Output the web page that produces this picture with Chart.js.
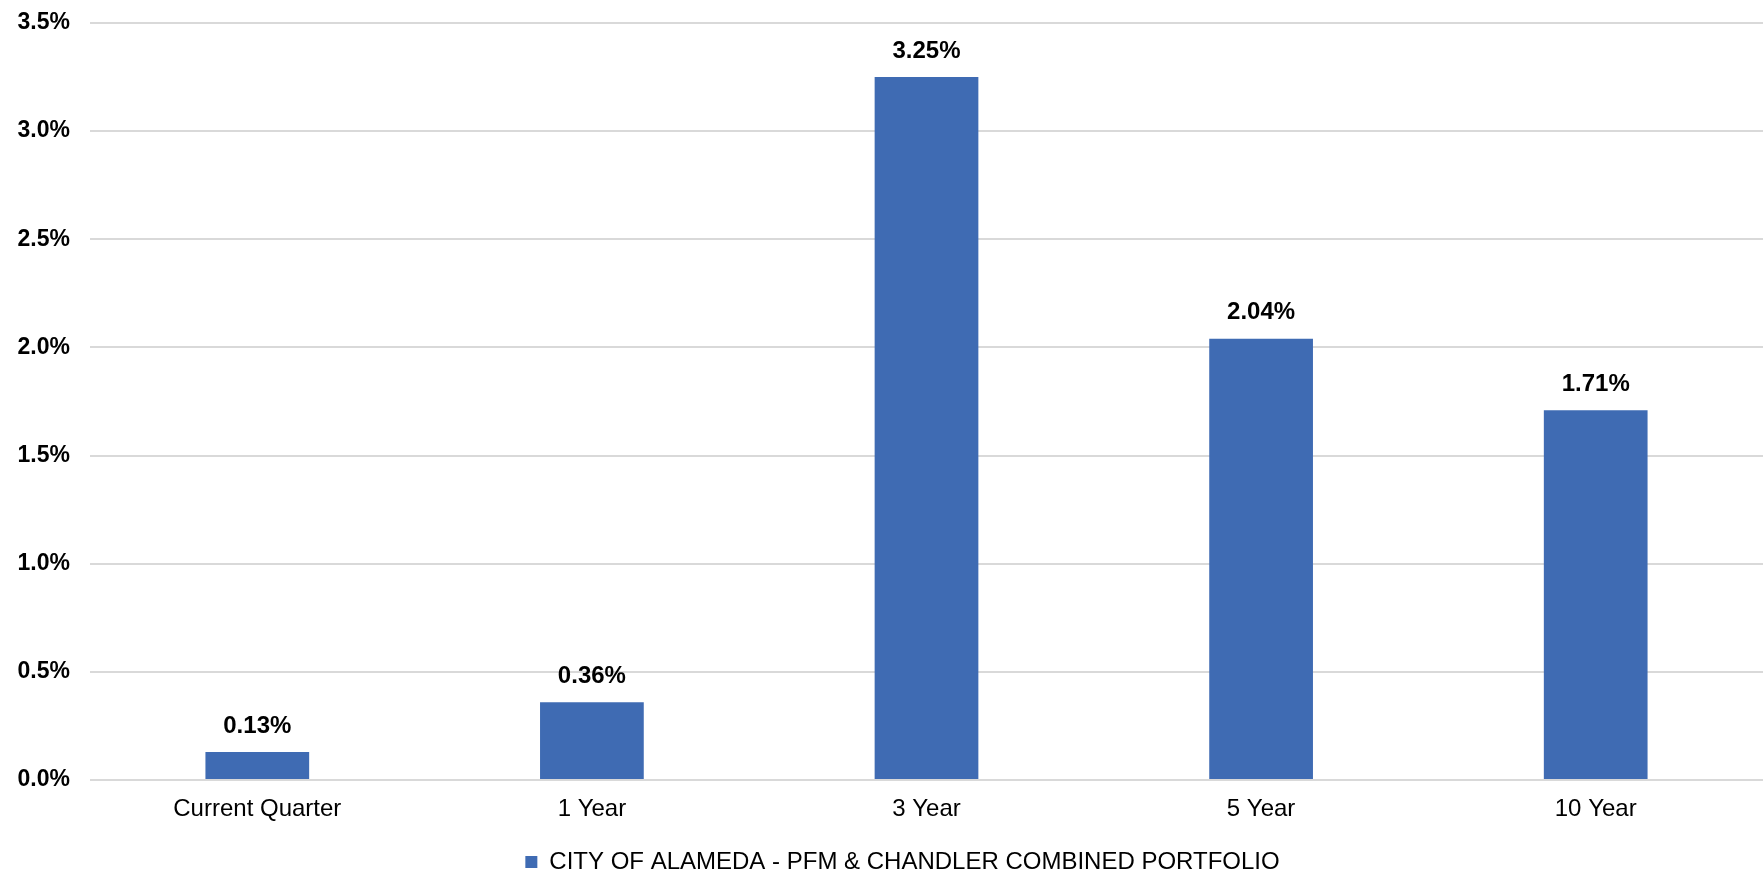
<!DOCTYPE html>
<html>
<head>
  <meta charset="UTF-8">
  <title>Annualized Returns</title>
  <script src="https://cdn.jsdelivr.net/npm/chart.js"></script>
  <style>
    html, body { margin: 0; padding: 0; background: #fff; }
    #wrap { width: 1763px; height: 876px; }
  </style>
</head>
<body>
  <div id="wrap"><canvas id="chart"></canvas></div>
  <script>
    const categories = ['Current Quarter', '1 Year', '3 Year', '5 Year', '10 Year'];
    const returns = [0.13, 0.36, 3.25, 2.04, 1.71];
    const seriesName = 'CITY OF ALAMEDA - PFM & CHANDLER COMBINED PORTFOLIO';

    const FONT = "'Liberation Sans', Arial, sans-serif";

    // value labels above each bar
    const barLabels = {
      id: 'barLabels',
      afterDatasetsDraw(chart) {
        const ctx = chart.ctx;
        const meta = chart.getDatasetMeta(0);
        ctx.save();
        ctx.font = 'bold 24px ' + FONT;
        ctx.fillStyle = '#000';
        ctx.textAlign = 'center';
        ctx.textBaseline = 'middle';
        meta.data.forEach((bar, i) => {
          ctx.fillText(returns[i].toFixed(2) + '%', bar.x, bar.y - 26);
        });
        ctx.restore();
      }
    };

    // legend in the original sits a little right of the canvas centre
    const legendNudge = {
      id: 'legendNudge',
      afterLayout(chart) {
        chart.legend.left += 21;
        chart.legend.right += 21;
      }
    };

    new Chart(document.getElementById('chart'), {
      type: 'bar',
      data: {
        labels: categories,
        datasets: [{
          label: seriesName,
          data: returns,
          backgroundColor: '#3f6bb3',
          categoryPercentage: 1,
          barPercentage: 0.31
        }]
      },
      options: {
        responsive: true,
        maintainAspectRatio: false,
        animation: false,
        layout: { padding: { top: 23, right: 0, bottom: -8, left: 0 } },
        scales: {
          x: {
            grid: { display: false, drawTicks: false },
            border: { display: false },
            ticks: { color: '#000', padding: 15, font: { family: FONT, size: 24 } },
            afterFit(scale) { scale.height = 70; }
          },
          y: {
            min: 0,
            max: 3.5,
            grid: { color: '#d9d9d9', lineWidth: 2, drawTicks: false },
            border: { display: false },
            ticks: {
              stepSize: 0.5,
              color: '#000',
              padding: 20,
              font: { family: FONT, size: 23, weight: 'bold' },
              callback: v => v.toFixed(1) + '%'
            },
            afterFit(scale) {
              scale.width = 90;
              scale.paddingTop = 0;
              scale.paddingBottom = 0;
            }
          }
        },
        plugins: {
          legend: {
            position: 'bottom',
            labels: {
              color: '#000',
              boxWidth: 12,
              boxHeight: 12,
              padding: 0,
              font: { family: FONT, size: 24 }
            }
          },
          tooltip: { enabled: false }
        }
      },
      plugins: [barLabels, legendNudge]
    });
  </script>
</body>
</html>
